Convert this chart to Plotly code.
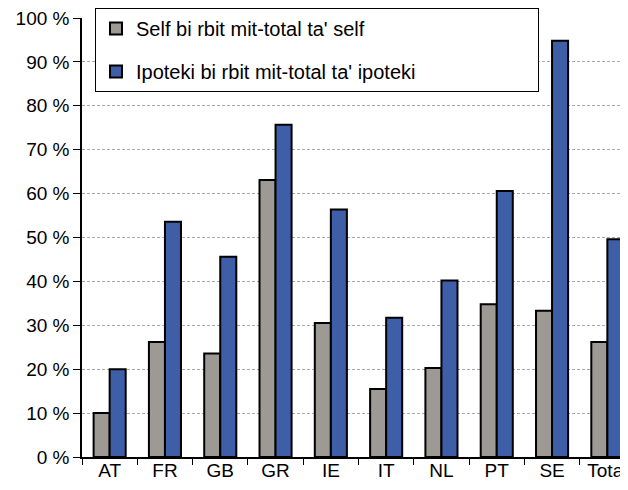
import plotly.graph_objects as go

# données
pays = ["AT", "FR", "GB", "GR", "IE", "IT", "NL", "PT", "SE", "Total"]
self_pct = [10, 26.2, 23.6, 63.1, 30.5, 15.5, 20.3, 34.8, 33.3, 26.2]
ipoteki_pct = [20, 53.6, 45.6, 75.7, 56.4, 31.7, 40.2, 60.6, 94.8, 49.6]
y_ticks = list(range(0, 101, 10))
y_labels = [f"{v} %" for v in y_ticks]

police = dict(family="Liberation Sans, Arial, sans-serif", size=19, color="black")
pad = "\u00a0" * 21  # élargit le cadre de la légende

fig = go.Figure()
fig.add_bar(x=pays, y=self_pct, name="Self bi rbit mit-total ta' self",
            marker=dict(color="#9d9995", line=dict(color="black", width=2)),
            legendgroup="a")
fig.add_bar(x=pays, y=ipoteki_pct, name="Ipoteki bi rbit mit-total ta' ipoteki" + pad,
            marker=dict(color="#3f5ea8", line=dict(color="black", width=2)),
            legendgroup="b")

# la page ajoute 8 px de marge autour du graphique
fig.update_layout(
    width=628, height=490,
    margin=dict(l=74, r=1, t=9, b=41),
    plot_bgcolor="white", paper_bgcolor="white",
    font=police,
    barmode="group", bargap=0.42, bargroupgap=0,
    showlegend=True,
    legend=dict(x=0.0235, y=1.0205, xanchor="left", yanchor="top",
                bgcolor="white", bordercolor="black", borderwidth=1,
                traceorder="grouped", tracegroupgap=14,
                font=dict(family=police["family"], size=20, color="black")),
)
fig.update_xaxes(range=[-0.5, 9.5], showline=True, linecolor="black", linewidth=1.5,
                 ticks="outside", tickson="boundaries", ticklen=6, tickcolor="black",
                 ticklabelstandoff=-5, showgrid=False, tickfont=police,
                 automargin=False)
fig.update_yaxes(range=[0, 100], tickvals=y_ticks, ticktext=y_labels,
                 showline=True, linecolor="black", linewidth=1.5,
                 ticks="outside", ticklen=7, tickcolor="black",
                 showgrid=True, gridcolor="#aaaaaa", griddash="3px,2px", gridwidth=1,
                 zeroline=False, tickfont=police,
                 ticklabeloverflow="allow", automargin=False)

fig.write_html("out.html")
